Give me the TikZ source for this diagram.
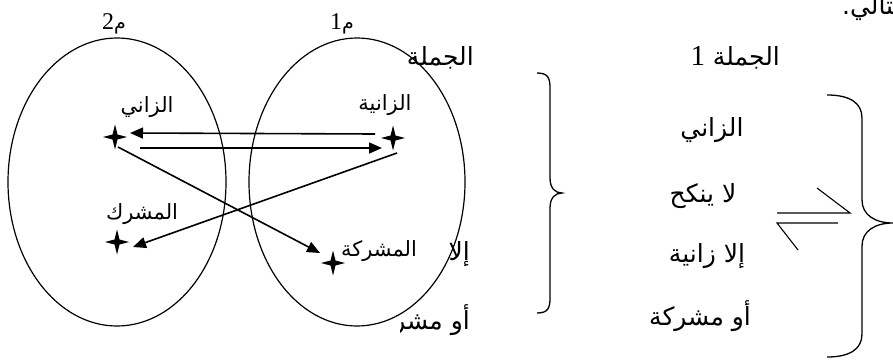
\documentclass[tikz,border=0pt]{standalone}
\usepackage{fontspec}
\setmainfont{Liberation Serif}
\newfontfamily\arab[Script=Arabic]{DejaVu Sans}
\newfontfamily\serif{Liberation Serif}
\TeXXeTstate=1
\usetikzlibrary{arrows.meta,calc,shapes.geometric}
\begin{document}
\begin{tikzpicture}[x=1pt,y=-1pt,
  lbl/.style={inner sep=0pt, font={\arab\fontsize{21}{23}\selectfont}},
  col/.style={inner sep=0pt, font={\arab\fontsize{25}{27}\selectfont}},
  msym/.style={inner sep=0pt, font={\arab\fontsize{19}{21}\selectfont}},
  arr/.style={line width=1.6pt, -{Triangle[length=13pt,width=11pt]}},
  ell/.style={draw, ellipse, line width=1.2pt, inner sep=0pt},
  brace/.style={line width=1.3pt},
  thin/.style={line width=1.1pt},
  star4/.pic={\fill (-12,0) -- (-2.5,-2.5) -- (0,-12.5) -- (2.5,-2.5) -- (12,0) -- (2.5,2.5) -- (0,12.5) -- (-2.5,2.5) -- cycle;}
]
\useasboundingbox (0,0) rectangle (893,361);
\clip (0,0) rectangle (893,361);

% top-right fragment
\node[col, anchor=west] (tali) at (842,8) {\beginR كالتالي.\endR};

% column 2 (partly hidden)
\node[col, anchor=east] (c2t) at (474,58) {\beginR الجملة\endR};
\node[col, anchor=east] (c2a) at (470,254) {\beginR إلا\endR};
\begin{scope}
\clip (400,300) rectangle (480,345);
\node[col, anchor=east] (c2b) at (470,320) {\beginR أو مشركة\endR};
\end{scope}

% column 1
\node[col, anchor=east] (c1t) at (780,58) {\beginR الجملة {\serif\fontsize{29}{30}\selectfont 1}\endR};
\node[col] (c1a) at (712,130) {\beginR الزاني\endR};
\node[col] (c1b) at (703,196) {\beginR لا ينكح\endR};
\node[col] (c1c) at (707,256) {\beginR إلا زانية\endR};
\node[col] (c1d) at (700,316) {\beginR أو مشركة\endR};

% braces
\draw[brace] (537,73) .. controls (548,73) and (550,78) .. (550,88) -- (550,178)
  .. controls (550,188) and (555,193) .. (562,193)
  .. controls (555,193) and (550,198) .. (550,208) -- (550,298)
  .. controls (550,308) and (548,313) .. (537,313);
\draw[brace] (827,95) .. controls (850,95) and (862,103) .. (862,118) -- (862,200)
  .. controls (862,215) and (875,223) .. (893,223)
  .. controls (875,223) and (862,231) .. (862,246) -- (862,334)
  .. controls (862,349) and (850,357) .. (827,357);

% equilibrium sign
\coordinate (e1) at (777,213); \coordinate (e2) at (850,213); \coordinate (e3) at (817,188);
\coordinate (e4) at (777,223); \coordinate (e5) at (838,223); \coordinate (e6) at (798,250);
\draw[thin] (e1) -- (e2) -- (e3);
\draw[thin] (e5) -- (e4) -- (e6);

% ellipses
\node[ell, minimum width=218pt, minimum height=288pt] (E2) at (117,182) {};
\node[ell, minimum width=216pt, minimum height=288pt] (E1) at (357,182) {};
\node[msym] (m2) at (114,24) {\beginR م{\serif\fontsize{24}{25}\selectfont 2}\endR};
\node[msym] (m1) at (342,24) {\beginR م{\serif\fontsize{24}{25}\selectfont 1}\endR};

% stars
\coordinate (sA) at (115,137);
\coordinate (sB) at (393,138);
\coordinate (sC) at (117,242);
\coordinate (sD) at (333,263);
\foreach \s in {sA,sB,sC,sD} \pic at (\s) {star4};

% labels
\node[lbl] (lA) at (147,107) {\beginR الزاني\endR};
\node[lbl] (lB) at (385,105) {\beginR الزانية\endR};
\node[lbl] (lC) at (142,214) {\beginR المشرك\endR};
\node[lbl] (lD) at (379,251) {\beginR المشركة\endR};

% arrows
\draw[arr] ($(sB)+(-18,-4)$) -- ($(sA)+(15,-4)$);
\draw[arr] ($(sA)+(25,11)$) -- ($(sB)+(-11,10)$);
\draw[arr] ($(sA)+(3,10)$) -- ($(sD)+(-13,-10)$);
\draw[arr] ($(sB)+(4,15)$) -- ($(sC)+(16,5)$);
\end{tikzpicture}
\end{document}
